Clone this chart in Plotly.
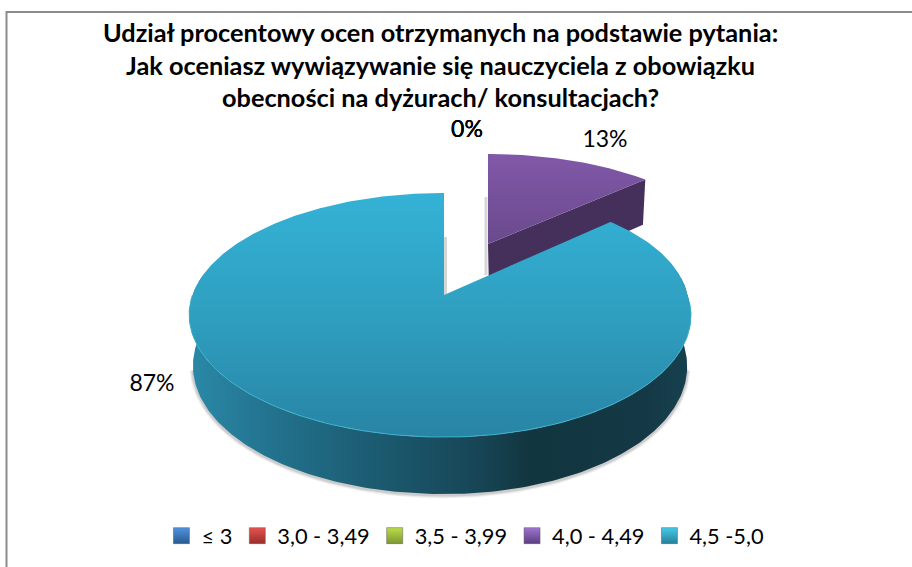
import numpy as np
import plotly.graph_objects as go

CATEGORIES = ["≤ 3", "3,0 - 3,49", "3,5 - 3,99", "4,0 - 4,49", "4,5 -5,0"]
VALUES = [0, 0, 0, 13, 87]
LEGEND_COLORS = ["#2a5a90", "#982e2b", "#7d9832", "#5a3f80", "#267f9a"]
LEGEND_LIGHT = ["#4f93e0", "#e8524e", "#bcdc48", "#a074d2", "#44cbea"]
TITLE_LINES = [
    "Udział procentowy ocen otrzymanych na podstawie pytania:",
    "Jak oceniasz wywiązywanie się nauczyciela z obowiązku",
    "obecności na dyżurach/ konsultacjach?",
]

FONT = "Lato"
TEXT = "#000000"
PERSP = 0.164


def project(theta, x0, y0, kx, ky, skew=0.0, bulge=0.0):
    """Slice angle (clockwise from 12 o'clock) -> plot position, with the chart's perspective."""
    u, v = np.sin(theta), np.cos(theta)
    w = 1 + PERSP * v
    x = x0 + kx * u / w - skew * np.abs(u) + bulge * np.clip(u, 0, None) * np.clip(v, 0, None)
    return x, y0 - ky * v / w


def project_low(theta, x0, y0, kx, ky, skew, bulge, depth, dd):
    x, y = project(theta, x0, y0, kx * 0.985, ky, skew, bulge)
    return x, y + depth - dd * np.cos(theta)


fractions = np.array(VALUES, dtype=float) / sum(VALUES)
edges = np.concatenate([[0], np.cumsum(fractions)]) * 2 * np.pi
purple_a, purple_b = edges[3], edges[4]
blue_a, blue_b = edges[4], edges[5]

BLUE = dict(x0=444, y0=295, kx=247.5, ky=118.8, skew=4, bulge=14)
PURPLE = dict(x0=488, y0=244, kx=240, ky=104.8, skew=0, bulge=0)
DEPTH = dict(depth=50, dd=7)

fig = go.Figure()

# ---- soft shadow below the front wall
t = np.linspace(np.pi * 0.56, np.pi * 1.44, 160)
sx, sy = project_low(t, **BLUE, **DEPTH)
for width, alpha in [(7, 0.07), (5, 0.10), (3, 0.16)]:
    fig.add_trace(go.Scatter(x=sx, y=sy + 1, mode="lines", showlegend=False, hoverinfo="skip",
                             line=dict(color=f"rgba(90,90,90,{alpha})", width=width)))

# ---- small shadows beside the cut faces
fig.add_trace(go.Scatter(x=[BLUE["x0"] + 1.5, BLUE["x0"] + 1.5], y=[BLUE["y0"] - 58, BLUE["y0"]], mode="lines",
                         showlegend=False, hoverinfo="skip", line=dict(color="rgba(120,120,120,0.30)", width=3)))
fig.add_trace(go.Scatter(x=[PURPLE["x0"] - 2, PURPLE["x0"] - 2], y=[PURPLE["y0"] - 47, PURPLE["y0"] + 31],
                         mode="lines", showlegend=False, hoverinfo="skip",
                         line=dict(color="rgba(120,120,120,0.30)", width=3)))

# ---- purple slice: cut wall, then the top
t = np.linspace(purple_a, purple_b, 60)
px, py = project(t, **PURPLE)
lx, ly = project_low(t, **PURPLE, **DEPTH)
fig.add_trace(go.Scatter(
    x=[PURPLE["x0"], px[-1], lx[-1], PURPLE["x0"] + 1], y=[PURPLE["y0"], py[-1], ly[-1], PURPLE["y0"] + 48],
    mode="lines", fill="toself", fillcolor="#45305c", line=dict(width=0), showlegend=False, hoverinfo="skip"))
fig.add_trace(go.Scatter(
    x=np.r_[PURPLE["x0"], px, PURPLE["x0"]], y=np.r_[PURPLE["y0"], py, PURPLE["y0"]],
    mode="lines", fill="toself", line=dict(width=0), showlegend=False, hoverinfo="skip",
    fillgradient=dict(type="vertical", colorscale=[[0, "#6a4a8d"], [1, "#8158a8"]])))

# ---- blue slice: front wall, then the top
t = np.linspace(np.pi * 0.45, np.pi * 1.55, 220)
tx, ty = project(t, **BLUE)
lx, ly = project_low(t, **BLUE, **DEPTH)
fig.add_trace(go.Scatter(
    x=np.r_[tx, lx[::-1]], y=np.r_[ty, ly[::-1]],
    mode="lines", fill="toself", line=dict(width=0), showlegend=False, hoverinfo="skip",
    fillgradient=dict(type="horizontal", colorscale=[
        [0.00, "#2a89a8"], [0.15, "#237490"], [0.38, "#1b5a6f"], [0.58, "#174555"],
        [0.68, "#12363f"], [0.90, "#143845"], [1.00, "#17414f"]])))

t = np.linspace(blue_a, blue_b, 400)
tx, ty = project(t, **BLUE)
fig.add_trace(go.Scatter(
    x=np.r_[BLUE["x0"], tx, BLUE["x0"]], y=np.r_[BLUE["y0"], ty, BLUE["y0"]],
    mode="lines", fill="toself", line=dict(width=0), showlegend=False, hoverinfo="skip",
    fillgradient=dict(type="vertical", colorscale=[[0, "#2884a5"], [0.5, "#2f9fc0"], [1, "#34b2d6"]])))

# ---- bright rim on the front edge
t = np.linspace(np.pi * 0.52, np.pi * 1.5, 160)
rx, ry = project(t, **BLUE)
fig.add_trace(go.Scatter(x=rx, y=ry, mode="lines", showlegend=False, hoverinfo="skip",
                         line=dict(color="#3bb0cc", width=1)))

# ---- percent labels, one per category
label_x = [467, 467, 467, 605, 152]
label_y = [131, 131, 131, 141, 385]
fig.add_trace(go.Scatter(
    x=label_x, y=label_y, mode="text", text=[f"{v}%" for v in VALUES], showlegend=False, hoverinfo="skip",
    textposition="middle center", textfont=dict(family=FONT, size=23, color=TEXT)))

# ---- legend entries
for name, color, light in zip(CATEGORIES, LEGEND_COLORS, LEGEND_LIGHT):
    fig.add_trace(go.Scatter(
        x=[None], y=[None], mode="markers", name=name,
        marker=dict(symbol="square", size=16, color=light, line=dict(color="#5a5a5a", width=0.5),
                    gradient=dict(type="vertical", color=color))))

annotations = [
    dict(x=440, y=yy, xref="x", yref="y", text=line, showarrow=False,
         font=dict(family=FONT, size=25.3, color=TEXT, weight="bold"), xanchor="center", yanchor="middle")
    for line, yy in zip(TITLE_LINES, [32, 65, 97])
]

fig.update_layout(
    width=912, height=567, margin=dict(l=0, r=0, t=0, b=0),
    paper_bgcolor="white", plot_bgcolor="white",
    xaxis=dict(range=[0, 912], visible=False, fixedrange=True),
    yaxis=dict(range=[567, 0], visible=False, fixedrange=True),
    annotations=annotations,
    shapes=[dict(type="rect", xref="x", yref="y", x0=6.5, y0=12, x1=940, y1=600,
                 line=dict(color="#8c8c8c", width=2), fillcolor="rgba(0,0,0,0)", layer="below")],
    legend=dict(orientation="h", x=0.177, y=0.0547, xanchor="left", yanchor="middle",
                font=dict(family=FONT, size=21.8, color=TEXT), bgcolor="rgba(0,0,0,0)",
                itemwidth=30, tracegroupgap=0),
    font=dict(family=FONT),
)

fig.write_html("out.html", config={"displayModeBar": False},
               post_script="document.body.style.margin='0';")
